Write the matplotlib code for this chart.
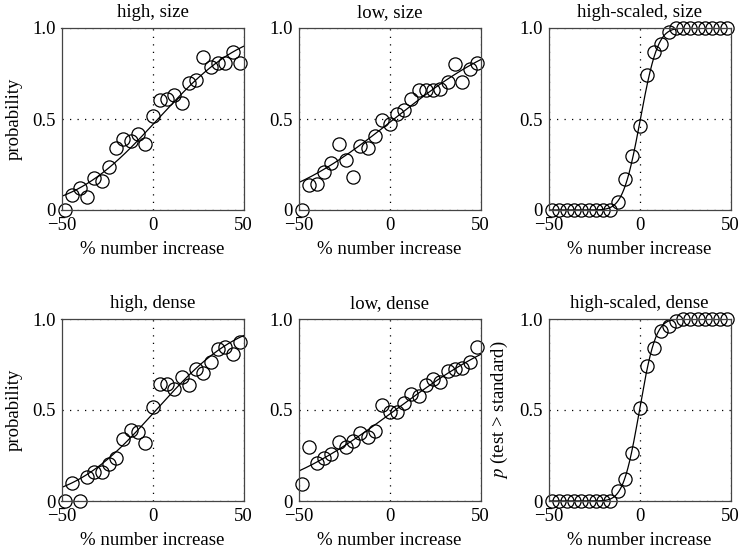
import math
import numpy as np
import matplotlib
matplotlib.use("Agg")
import matplotlib.pyplot as plt

plt.rcParams["font.family"] = ["Liberation Serif", "DejaVu Serif"]
plt.rcParams["mathtext.fontset"] = "stix"

# % number increase of the test stimulus
x = [-48, -44, -40, -36, -32, -28, -24, -20, -16, -12, -8, -4, 0,
     4, 8, 12, 16, 20, 24, 28, 32, 36, 40, 44, 48]

high_size = [0.0, 0.08, 0.12, 0.07, 0.175, 0.16, 0.235, 0.34, 0.39, 0.38, 0.42, 0.36, 0.515,
             0.605, 0.61, 0.63, 0.59, 0.70, 0.715, 0.84, 0.785, 0.81, 0.81, 0.87, 0.81]
low_size = [0.0, 0.14, 0.145, 0.21, 0.26, 0.36, 0.275, 0.18, 0.35, 0.34, 0.405, 0.495, 0.47,
            0.525, 0.55, 0.61, 0.66, 0.66, 0.66, 0.665, 0.705, 0.80, 0.705, 0.775, 0.81]
scaled_size = [0, 0, 0, 0, 0, 0, 0, 0, 0, 0.046, 0.169, 0.294, 0.46,
               0.74, 0.868, 0.914, 0.976, 1, 1, 1, 1, 1, 1, 1, 1]
high_dense = [0.0, 0.098, 0.0, 0.13, 0.16, 0.16, 0.206, 0.234, 0.34, 0.39, 0.38, 0.32, 0.517,
              0.643, 0.643, 0.613, 0.684, 0.638, 0.725, 0.706, 0.764, 0.833, 0.848, 0.81, 0.875]
low_dense = [0.093, 0.294, 0.21, 0.238, 0.256, 0.325, 0.297, 0.33, 0.374, 0.35, 0.387, 0.53, 0.49,
             0.49, 0.537, 0.59, 0.578, 0.637, 0.67, 0.656, 0.717, 0.725, 0.73, 0.764, 0.848]
scaled_dense = [0, 0, 0, 0, 0, 0, 0, 0, 0, 0.055, 0.12, 0.262, 0.51,
                0.743, 0.84, 0.932, 0.963, 0.987, 1, 1, 1, 1, 1, 1, 1]

titles = ["high, size", "low, size", "high-scaled, size",
          "high, dense", "low, dense", "high-scaled, dense"]
series = [high_size, low_size, scaled_size, high_dense, low_dense, scaled_dense]
# fitted cumulative-normal parameters (mean, sd) for each panel
fit_mu = [3.0, 2.5, 0.5, 2.0, 3.2, 0.0]
fit_sd = [36.8, 50.7, 7.5, 36.0, 54.4, 7.0]

fig = plt.figure(figsize=(7.4, 5.59), dpi=100)
W, H = 740, 559
lefts = [61.5, 298.5, 548.5]
bottoms = [210, 501]
size = 182
fs = 13.5

xs = np.linspace(-50, 50, 400)
for i in range(6):
    r, c = divmod(i, 3)
    ax = fig.add_axes([lefts[c] / W, 1 - bottoms[r] / H, size / W, size / H])
    fit = [0.5 * (1 + math.erf((v - fit_mu[i]) / (fit_sd[i] * math.sqrt(2)))) for v in xs]
    ax.plot(xs, fit, color="black", lw=0.9)
    ax.plot(x, series[i], "o", mfc="none", mec="black", ms=9.5, mew=0.9, clip_on=False)
    ax.set_xlim(-50, 50)
    ax.set_ylim(0, 1)
    ax.set_xticks([-50, 0, 50])
    ax.set_xticklabels(["\u221250", "0", "50"])
    ax.set_yticks([0, 0.5, 1.0])
    ax.set_yticklabels(["0", "0.5", "1.0"])
    ax.grid(True, linestyle=(0, (1, 5)), color="black", lw=0.9)
    ax.tick_params(axis="x", direction="in", length=0, labelsize=fs, pad=5)
    ax.tick_params(axis="y", direction="in", length=0, labelsize=fs, pad=4)
    for s in ax.spines.values():
        s.set_color("#444444")
        s.set_linewidth(0.9)
    ax.set_title(titles[i], fontsize=fs, pad=8)
    ax.set_xlabel("% number increase", fontsize=fs, labelpad=5)
    if c == 0:
        ax.set_ylabel("probability", fontsize=fs, labelpad=7)
    if i == 5:
        ax.set_ylabel("$p$ (test > standard)", fontsize=fs, labelpad=7)

fig.savefig("out.png", dpi=100)
